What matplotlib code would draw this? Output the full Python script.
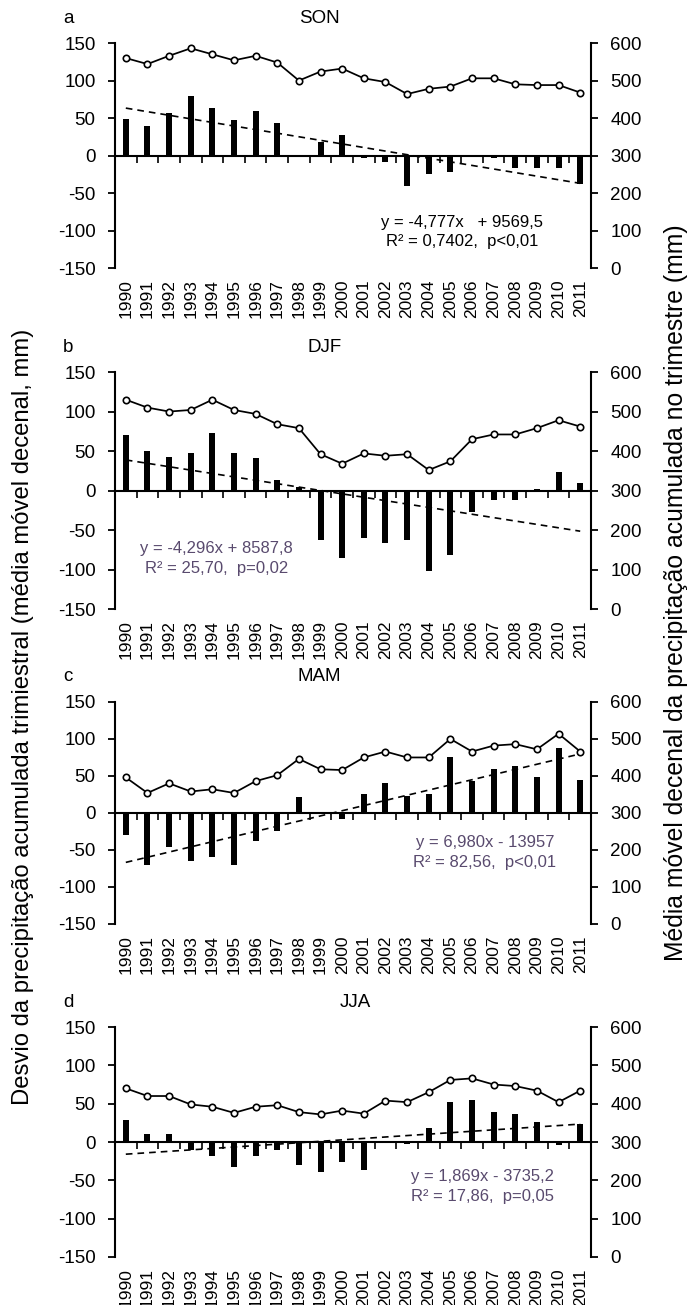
import matplotlib
matplotlib.use("Agg")
import matplotlib.pyplot as plt
import numpy as np

plt.rcParams['font.family'] = ['Liberation Sans', 'DejaVu Sans']

years = list(range(1990, 2012))
year_labels = [str(y) for y in years]

panel_letters = ['a', 'b', 'c', 'd']
seasons = ['SON', 'DJF', 'MAM', 'JJA']

# deviation of seasonal accumulated precipitation (bars, left axis, mm)
son_dev = [49, 39, 57, 79, 63, 47, 60, 44, -2, 18, 28, -3, -9, -41, -25, -22, -1, -3, -17, -17, -17, -38]
djf_dev = [70, 50, 43, 48, 73, 48, 41, 13, 5, -62, -85, -60, -67, -62, -102, -82, -27, -12, -12, 2, 23, 10]
mam_dev = [-30, -71, -46, -65, -59, -71, -38, -24, 21, -2, -8, 26, 40, 23, 26, 75, 43, 59, 64, 48, 88, 45]
jja_dev = [29, 10, 10, -10, -18, -33, -18, -10, -30, -39, -26, -36, -1, -3, 18, 52, 55, 39, 37, 26, -4, 23]

# decadal moving mean of seasonal accumulated precipitation (line, right axis, mm)
son_mean = [560, 544, 566, 586, 570, 554, 566, 548, 500, 524, 532, 506, 496, 464, 478, 484, 506, 506, 490, 488, 488, 468]
djf_mean = [530, 510, 500, 504, 530, 504, 494, 468, 458, 392, 368, 394, 388, 392, 352, 374, 430, 442, 442, 458, 478, 462]
mam_mean = [396, 354, 380, 358, 364, 354, 386, 402, 446, 418, 416, 450, 466, 450, 450, 500, 466, 482, 486, 472, 514, 466]
jja_mean = [440, 420, 420, 398, 392, 376, 392, 396, 378, 372, 382, 374, 408, 404, 430, 462, 466, 450, 446, 434, 404, 434]

# linear trend coefficients (from the equations printed in the chart)
trend_slope = [-4.777, -4.296, 6.980, 1.869]
trend_intercept = [9569.5, 8587.8, -13957, -3735.2]

eq_line1 = ['y = -4,777x   + 9569,5', 'y = -4,296x + 8587,8', 'y = 6,980x - 13957', 'y = 1,869x - 3735,2']
eq_line2 = ['R² = 0,7402,  p<0,01', 'R² = 25,70,  p=0,02', 'R² = 82,56,  p<0,01', 'R² = 17,86,  p=0,05']

left_ticks = [-150, -100, -50, 0, 50, 100, 150]
right_ticks = [0, 100, 200, 300, 400, 500, 600]

devs = [son_dev, djf_dev, mam_dev, jja_dev]
means = [son_mean, djf_mean, mam_mean, jja_mean]

# layout (figure fractions)
rects = [
    [0.1669, 0.7946, 0.6909, 0.1724],
    [0.1669, 0.5333, 0.6909, 0.1816],
    [0.1669, 0.2920, 0.6909, 0.1701],
    [0.1669, 0.0368, 0.6909, 0.1762],
]
eq_pos = [(0.73, 0.204, 0.116), (0.214, 0.257, 0.173), (0.777, 0.365, 0.275), (0.773, 0.348, 0.261)]
eq_colors = ['black', '#594a6e', '#594a6e', '#594a6e']
title_x = [0.43, 0.44, 0.43, 0.505]

fig = plt.figure(figsize=(6.89, 13.05), dpi=100)

TF = 13.5
x = np.arange(len(years))
for i in range(4):
    ax = fig.add_axes(rects[i])
    ax2 = ax.twinx()

    ax.bar(x, devs[i], width=0.28, color='black', zorder=2)
    tr = [trend_slope[i] * y + trend_intercept[i] for y in (years[0], years[-1])]
    ax.plot([x[0], x[-1]], tr, color='black', lw=1.2, ls=(0, (4, 3)), zorder=3)

    ax2.plot(x, means[i], color='black', lw=1.25, marker='o', ms=4.6,
             mfc='white', mec='black', mew=1.2, zorder=4)

    ax.set_xlim(-0.5, len(years) - 0.5)
    ax.set_ylim(-150, 150)
    ax.set_yticks(left_ticks)
    ax.set_yticklabels([str(t) for t in left_ticks])
    ax2.set_ylim(0, 600)
    ax2.set_yticks(right_ticks)
    ax2.set_yticklabels([str(t) for t in right_ticks])

    # main x axis line at zero with category-boundary ticks
    ax.spines['bottom'].set_position(('data', 0))
    ax.set_xticks(np.arange(0.5, len(years) - 1, 1.0))
    ax.tick_params(axis='x', direction='out', length=5, width=1.2, labelbottom=False)
    for s in ['top', 'right']:
        ax.spines[s].set_visible(False)
    for s in ['left', 'bottom']:
        ax.spines[s].set_linewidth(1.5)
    ax.tick_params(axis='y', direction='out', length=5, width=1.3, labelsize=TF, pad=9)

    for s in ['top', 'left', 'bottom']:
        ax2.spines[s].set_visible(False)
    ax2.spines['right'].set_linewidth(1.5)
    ax2.tick_params(axis='y', direction='out', length=5, width=1.3, labelsize=TF, pad=9)

    sec = ax.secondary_xaxis('bottom')
    sec.set_xticks(x)
    sec.set_xticklabels(year_labels, rotation=90)
    sec.tick_params(length=0, labelsize=12.5, pad=8)
    sec.spines['bottom'].set_visible(False)

    ax.text(title_x[i], 1.0 + 25 / (rects[i][3] * 1305), seasons[i], transform=ax.transAxes,
            ha='center', va='center', fontsize=TF)
    fig.text(68 / 689, rects[i][1] + rects[i][3] + 25 / 1305, panel_letters[i],
             ha='center', va='center', fontsize=TF)

    ex, ey1, ey2 = eq_pos[i]
    ax.text(ex, ey1, eq_line1[i], transform=ax.transAxes, ha='center', va='center',
            fontsize=12, color=eq_colors[i])
    ax.text(ex, ey2, eq_line2[i], transform=ax.transAxes, ha='center', va='center',
            fontsize=12, color=eq_colors[i])

fig.text(23 / 689, 0.4506, 'Desvio da precipitação acumulada trimiestral (média móvel decenal, mm)',
         rotation=90, ha='center', va='center', fontsize=17.2)
fig.text(676 / 689, 0.5456, 'Média móvel decenal da precipitação acumulada no trimestre (mm)',
         rotation=90, ha='center', va='center', fontsize=17.8)

fig.savefig('out.png', dpi=100)
